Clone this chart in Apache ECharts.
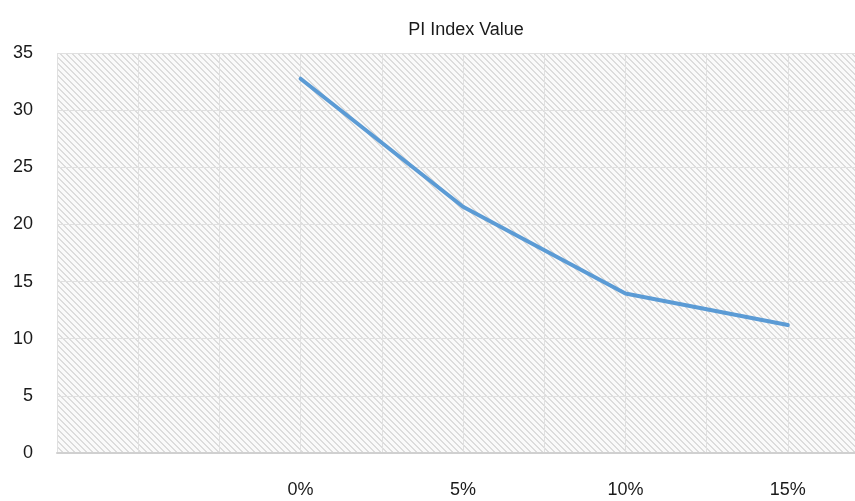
<!DOCTYPE html>
<html>
<head>
<meta charset="utf-8">
<script src="https://cdn.jsdelivr.net/npm/echarts@6/dist/echarts.min.js"></script>
<style>
html,body{margin:0;padding:0;background:#fff;overflow:hidden;}
#chart{width:875px;height:501px;}
</style>
</head>
<body>
<div id="chart"></div>
<script>
// Data
var xValues = [0, 5, 10, 15];            // percent
var piIndex = [32.75, 21.55, 13.95, 11.2];
var xTickLabels = ['0%', '5%', '10%', '15%'];
var titleText = 'PI Index Value';

function makePattern() {
  var n = 6;
  var c = document.createElement('canvas');
  c.width = n; c.height = n;
  var ctx = c.getContext('2d');
  ctx.fillStyle = '#fafafa';
  ctx.fillRect(0, 0, n, n);
  ctx.fillStyle = '#dcdcdc';
  for (var y = 0; y < n; y++) {
    for (var k = 0; k < 2; k++) {
      var x = (y + k) % n;
      ctx.fillRect(x, y, 1, 1);
    }
  }
  return c;
}

var font = '"Liberation Sans Narrow", "Liberation Sans", sans-serif';
var chart = echarts.init(document.getElementById('chart'));
var data = xValues.map(function (x, i) { return [x, piIndex[i]]; });
chart.setOption({
  animation: false,
  title: {
    text: titleText,
    left: 461, top: 16,
    textAlign: 'center',
    textStyle: { fontFamily: font, fontSize: 18, fontWeight: 'normal', color: '#1a1a1a' }
  },
  grid: {
    left: 57, right: 6, top: 53, bottom: 48,
    show: true, borderWidth: 0,
    backgroundColor: { image: makePattern(), repeat: 'repeat' }
  },
  xAxis: {
    type: 'value',
    min: -7.5, max: 17.5, interval: 2.5,
    axisLine: { show: true, lineStyle: { color: '#d0d0d0', width: 2 } },
    axisTick: { show: false },
    splitLine: { show: true, lineStyle: { color: '#e0e0e0', width: 1 } },
    axisLabel: {
      margin: 28,
      fontFamily: font, fontSize: 18, color: '#1a1a1a',
      formatter: function (v) {
        var i = xValues.indexOf(v);
        return i >= 0 ? xTickLabels[i] : '';
      }
    }
  },
  yAxis: {
    type: 'value',
    min: 0, max: 35, interval: 5,
    axisLine: { show: false },
    axisTick: { show: false },
    splitLine: { show: true, lineStyle: { color: '#e0e0e0', width: 1 } },
    axisLabel: { margin: 24, fontFamily: font, fontSize: 18, color: '#1a1a1a' }
  },
  series: [{
    type: 'line',
    data: data,
    showSymbol: false,
    symbol: 'none',
    lineStyle: { color: '#5b9bd5', width: 4, cap: 'round', join: 'round' }
  }]
});
</script>
</body>
</html>
